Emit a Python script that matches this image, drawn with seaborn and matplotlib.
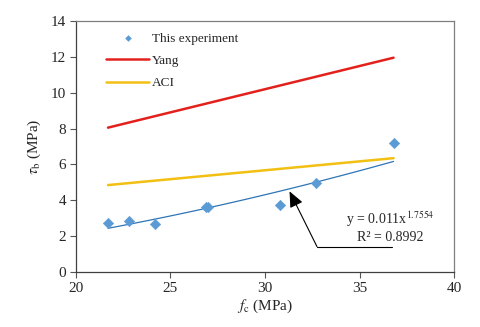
import numpy as np
import pandas as pd
import matplotlib.pyplot as plt
import seaborn as sns

# measured bond strength vs concrete strength
fc_exp = [21.7, 22.8, 24.2, 26.9, 27.0, 30.8, 32.7, 36.8]
tau_exp = [2.75, 2.85, 2.7, 3.65, 3.6, 3.75, 4.95, 7.2]

# model predictions (straight lines between end points)
fc_model = [21.7, 36.8]
tau_yang = [8.05, 11.95]
tau_aci = [4.85, 6.35]

# power trendline shown on the chart
fit_a = 0.011
fit_b = 1.7554
fit_r2 = 0.8992

sns.set_theme(style="ticks")
plt.rcParams["font.family"] = ["Liberation Serif", "DejaVu Serif"]
plt.rcParams["mathtext.fontset"] = "stix"

fig = plt.figure(figsize=(4.8, 3.27), dpi=100)
ax = fig.add_axes([0.158, 0.168, 0.788, 0.768])

exp = pd.DataFrame({"fc": fc_exp, "tau": tau_exp})
fc_fit = np.linspace(min(fc_exp), max(fc_exp), 50)
fit = pd.DataFrame({"fc": fc_fit, "tau": fit_a * fc_fit ** fit_b})

sns.lineplot(x=fc_model, y=tau_yang, ax=ax, color="#E3211C", lw=1.8, label="Yang")
sns.lineplot(x=fc_model, y=tau_aci, ax=ax, color="#F2C012", lw=1.8, label="ACI")
sns.lineplot(data=fit, x="fc", y="tau", ax=ax, color="#2E75B6", lw=0.9, label="_nolegend_")
sns.scatterplot(data=exp, x="fc", y="tau", ax=ax, marker="D", s=28, color="#5B9BD5",
                edgecolor="#5B9BD5", label="This experiment", zorder=5)

ax.set_xlim(20, 40)
ax.set_ylim(0, 14)
ax.set_xticks([20, 25, 30, 35, 40])
ax.set_yticks(range(0, 15, 2))
ax.tick_params(labelsize=11, direction="out", length=4, width=0.8, color="#555555", pad=3)
for s in ax.spines.values():
    s.set_color("#7F7F7F")
    s.set_linewidth(0.9)
ax.spines["left"].set_color("#404040")
ax.spines["bottom"].set_color("#404040")

ax.set_xlabel(r"$f_{\mathrm{c}}$ (MPa)", fontsize=11, labelpad=2)
ax.set_ylabel(r"$\tau_{\mathrm{b}}$ (MPa)", fontsize=11, labelpad=6)

# reorder legend: experiment first
h, l = ax.get_legend_handles_labels()
order = [l.index("This experiment"), l.index("Yang"), l.index("ACI")]
leg = ax.legend([h[i] for i in order], [l[i] for i in order], loc="upper left",
                frameon=False, fontsize=9.5, handlelength=3.3, handletextpad=0.2,
                labelspacing=0.75, borderaxespad=0.3, markerscale=0.55,
                bbox_to_anchor=(0.055, 0.99))

# equation annotation with arrow
ax.annotate("", xy=(31.3, 4.5), xytext=(32.75, 1.42),
            arrowprops=dict(arrowstyle="-|>,head_length=0.8,head_width=0.35",
                            color="black", lw=0.8, mutation_scale=12,
                            shrinkA=0, shrinkB=0))
ax.plot([32.75, 36.7], [1.42, 1.42], color="black", lw=0.8)
ax.text(36.6, 2.95, r"y = 0.011x$^{1.7554}$", ha="center", va="center", fontsize=10)
ax.text(36.6, 1.95, f"R² = {fit_r2}", ha="center", va="center", fontsize=10)

fig.savefig("out.png", dpi=100)
